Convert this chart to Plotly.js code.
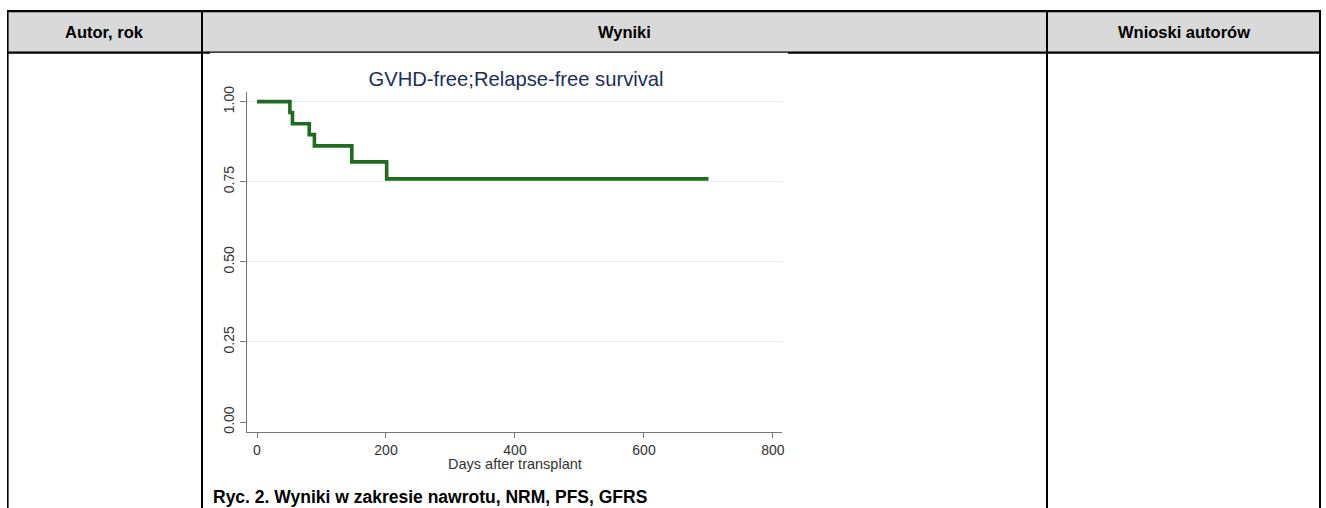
<!DOCTYPE html>
<html>
<head>
<meta charset="utf-8">
<script src="https://cdn.plot.ly/plotly-3.0.1.min.js"></script>
<style>
html,body{margin:0;padding:0;background:#fff;}
#chart{width:1326px;height:508px;}
</style>
</head>
<body>
<div id="chart"></div>
<script>
// ---- data ----
const chartTitle = "GVHD-free;Relapse-free survival";
const xAxisTitle = "Days after transplant";
const caption = "Ryc. 2. Wyniki w zakresie nawrotu, NRM, PFS, GFRS";
const headers = ["Autor, rok", "Wyniki", "Wnioski autorów"];
const days = [0, 51, 55, 81, 89, 147, 201, 700];
const survival = [1.0, 0.966, 0.931, 0.897, 0.862, 0.812, 0.759, 0.759];
const xTickVals = [0, 200, 400, 600, 800];
const yTickVals = [0, 0.25, 0.5, 0.75, 1.0];
const yTickText = ["0.00", "0.25", "0.50", "0.75", "1.00"];
const yGridVals = [0.25, 0.5, 0.75, 1.0];

// ---- layout helpers (pixel -> paper) ----
const W = 1326, H = 508;
const px = x => x / W;
const py = y => 1 - y / H;
function rect(x0, y0, x1, y1, color) {
  return {type: 'rect', xref: 'paper', yref: 'paper', layer: 'below',
    x0: px(x0), x1: px(x1), y0: py(y1), y1: py(y0),
    fillcolor: color, line: {width: 0}};
}

const shapes = [
  rect(8, 12, 1319, 52, '#d9d9d9'),          // header fill
  rect(7, 10, 1321, 12.3, '#000'),           // top border
  rect(7, 51.6, 1321, 53.8, '#000'),         // header bottom
  rect(7, 10, 8.6, 508, '#000'),             // left border
  rect(1319, 10, 1321, 508, '#000'),         // right border
  rect(201, 10, 203, 508, '#000'),           // divider 1
  rect(1046, 10, 1048, 508, '#000'),         // divider 2
  rect(210, 52.8, 788, 508, '#fff')          // embedded image background
];

const hdrFont = {family: 'Liberation Sans, Arial, sans-serif', size: 16.5, color: '#000'};
const headerX = [104.5, 624.5, 1183.5];
const annotations = headers.map((t, i) => ({
  text: '<b>' + t + '</b>', xref: 'paper', yref: 'paper', x: px(headerX[i]), y: py(31.5),
  xanchor: 'center', yanchor: 'middle', showarrow: false, font: hdrFont
}));
annotations.push({
  text: '<b>' + caption + '</b>', xref: 'paper', yref: 'paper', x: px(211), y: py(497),
  xanchor: 'left', yanchor: 'middle', showarrow: false,
  font: {family: 'Liberation Sans, Arial, sans-serif', size: 17.5, color: '#000'}
});
annotations.push({
  text: xAxisTitle, xref: 'paper', yref: 'paper', x: px(514.5), y: py(464),
  xanchor: 'center', yanchor: 'middle', showarrow: false,
  font: {family: 'Liberation Sans, Arial, sans-serif', size: 14.5, color: '#333'}
});

const traces = [{
  x: days, y: survival, type: 'scatter', mode: 'lines',
  line: {shape: 'hv', color: '#1d6b1d', width: 3.6},
  xaxis: 'x', yaxis: 'y', hoverinfo: 'skip'
}];

const tickFont = {family: 'Liberation Sans, Arial, sans-serif', size: 14, color: '#333'};
const layout = {
  width: W, height: H,
  margin: {l: 0, r: 0, t: 0, b: 0},
  paper_bgcolor: '#fff', plot_bgcolor: 'rgba(0,0,0,0)',
  showlegend: false,
  title: {
    text: chartTitle, xref: 'paper', yref: 'paper', x: px(516), xanchor: 'center',
    y: py(79), yanchor: 'middle',
    font: {family: 'Liberation Sans, Arial, sans-serif', size: 20.2, color: '#1c2d5e'}
  },
  xaxis: {
    domain: [px(247), px(782)], range: [-15.5, 814],
    tickvals: xTickVals, ticks: 'outside', ticklen: 5, tickcolor: '#777', tickwidth: 1,
    showline: true, linecolor: '#777', linewidth: 1.2,
    showgrid: false, zeroline: false, tickfont: tickFont, anchor: 'y'
  },
  yaxis: {
    domain: [py(431.7), py(91.7)], range: [-0.030, 1.031],
    tickvals: yTickVals, ticktext: yTickText, tickangle: -90,
    ticks: 'outside', ticklen: 6, tickcolor: '#777', tickwidth: 1,
    showline: true, linecolor: '#777', linewidth: 1.2,
    showgrid: false, zeroline: false, tickfont: tickFont, anchor: 'x'
  },
  yaxis2: {
    domain: [py(431.7), py(91.7)], range: [-0.030, 1.031], overlaying: 'y',
    tickvals: yGridVals, showticklabels: false, ticks: '',
    showgrid: true, gridcolor: '#ebebeb', gridwidth: 1, zeroline: false, showline: false
  },
  shapes: shapes,
  annotations: annotations
};

// invisible trace to activate the overlay grid axis
traces.unshift({x: [0], y: [0], xaxis: 'x', yaxis: 'y2', mode: 'markers',
  marker: {opacity: 0}, hoverinfo: 'skip', type: 'scatter'});

Plotly.newPlot('chart', traces, layout, {displayModeBar: false, staticPlot: true});
</script>
</body>
</html>
